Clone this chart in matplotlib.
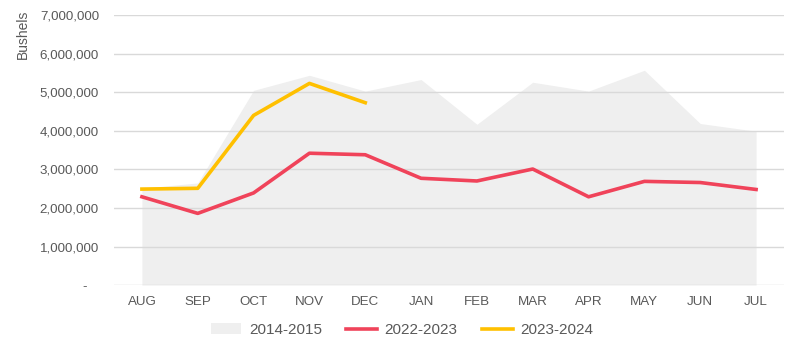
import matplotlib.pyplot as plt
from matplotlib import ticker as tick
from matplotlib.patches import Patch
from matplotlib.lines import Line2D

plt.rcParams['font.family'] = ['Liberation Sans', 'DejaVu Sans']

meses = ['AUG', 'SEP', 'OCT', 'NOV', 'DEC', 'JAN', 'FEB', 'MAR', 'APR', 'MAY', 'JUN', 'JUL']
serie_2014 = [2510000, 2650000, 5050000, 5440000, 5030000, 5330000, 4170000, 5260000, 5030000, 5570000, 4190000, 3990000]
serie_2022 = [2290000, 1860000, 2390000, 3420000, 3380000, 2770000, 2700000, 3010000, 2290000, 2690000, 2660000, 2480000]
serie_2023 = [2490000, 2510000, 4400000, 5230000, 4730000]

gris_texto = '#595959'
fig = plt.figure(figsize=(8, 3.52), dpi=100)
ax = fig.add_axes([0.1425, 0.19, 0.8375, 0.767])

x = range(len(meses))
ax.fill_between(x, serie_2014, 0, color='#efefef', lw=0, zorder=1)
ax.plot(x, serie_2022, color='#f0435a', lw=2.6, zorder=3, solid_joinstyle='round')
ax.plot(range(len(serie_2023)), serie_2023, color='#ffc000', lw=2.6, zorder=4, solid_joinstyle='round')

ax.set_xlim(-0.5, len(meses) - 0.5)
ax.set_ylim(0, 7000000)
ax.set_xticks(list(x))
ax.set_xticklabels(meses)
ax.set_yticks(range(0, 7000001, 1000000))
ax.yaxis.set_major_formatter(tick.FuncFormatter(lambda v, p: '-   ' if v == 0 else f'{int(v):,}'))
ax.grid(axis='y', color='#d9d9d9', lw=1, zorder=2)
ax.set_axisbelow(False)
for s in ax.spines.values():
    s.set_visible(False)
ax.tick_params(length=0, labelsize=9.6, colors=gris_texto, pad=8)
ax.tick_params(axis='y', pad=10.8)
ax.set_ylabel('Bushels', fontsize=10, color=gris_texto)
ax.yaxis.set_label_coords(-0.125, 0.93)

handles = [Patch(facecolor='#efefef', edgecolor='none'),
           Line2D([], [], color='#f0435a', lw=2.6),
           Line2D([], [], color='#ffc000', lw=2.6)]
fig.legend(handles, ['2014-2015', '2022-2023', '2023-2024'], loc='center', bbox_to_anchor=(0.5025, 0.0625),
           ncol=3, frameon=False, fontsize=11, labelcolor=gris_texto, handlelength=2, columnspacing=1.6,
           handletextpad=0.5)

fig.savefig('out.png', dpi=100)
